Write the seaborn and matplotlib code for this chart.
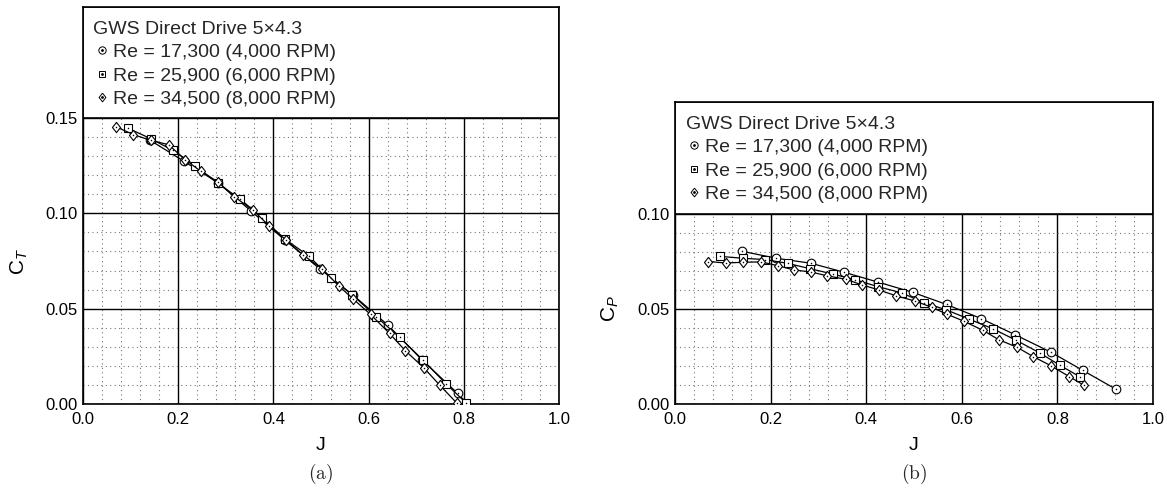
import numpy as np
import pandas as pd
import matplotlib
matplotlib.use("Agg")
import matplotlib.pyplot as plt
import matplotlib.transforms as mtransforms
from matplotlib.patches import Rectangle
from matplotlib.lines import Line2D
from matplotlib.legend_handler import HandlerTuple
from matplotlib.ticker import MultipleLocator
import seaborn as sns

sns.set_theme(style="white")
plt.rcParams['font.family'] = ['Liberation Sans', 'DejaVu Sans']
plt.rcParams['mathtext.fontset'] = 'custom'
plt.rcParams['mathtext.rm'] = 'Liberation Sans'
plt.rcParams['mathtext.it'] = 'Liberation Sans:italic'

# ---------------- data ----------------
labels = ["Re = 17,300 (4,000 RPM)", "Re = 25,900 (6,000 RPM)", "Re = 34,500 (8,000 RPM)"]
title = "GWS Direct Drive 5\u00d74.3"

J_4000 = [0.140, 0.212, 0.284, 0.353, 0.424, 0.497, 0.568, 0.640, 0.712, 0.787, 0.853, 0.923]
CT_4000 = [0.1385, 0.1273, 0.1160, 0.1012, 0.0860, 0.0710, 0.0570, 0.0415, 0.0232, 0.0056, -0.012, -0.030]
CP_4000 = [0.0804, 0.0767, 0.0741, 0.0694, 0.0642, 0.0588, 0.0524, 0.0450, 0.0364, 0.0272, 0.0177, 0.0077]

J_6000 = [0.094, 0.142, 0.189, 0.236, 0.283, 0.330, 0.377, 0.424, 0.474, 0.521, 0.566, 0.616, 0.665, 0.714, 0.763, 0.805, 0.848]
CT_6000 = [0.1447, 0.1392, 0.1330, 0.1250, 0.1158, 0.1075, 0.0975, 0.0865, 0.0777, 0.0660, 0.0572, 0.0458, 0.0350, 0.0231, 0.0105, 0.0005, -0.0090]
CP_6000 = [0.0777, 0.0767, 0.0760, 0.0740, 0.0712, 0.0684, 0.0654, 0.0618, 0.0585, 0.0533, 0.0497, 0.0446, 0.0396, 0.0335, 0.0269, 0.0204, 0.0142]

J_8000 = [0.070, 0.106, 0.142, 0.180, 0.215, 0.248, 0.284, 0.318, 0.358, 0.391, 0.427, 0.463, 0.502, 0.537, 0.568, 0.604, 0.644, 0.677, 0.716, 0.749, 0.786, 0.825, 0.856]
CT_8000 = [0.1453, 0.1413, 0.1383, 0.1360, 0.1280, 0.1220, 0.1164, 0.1087, 0.1015, 0.0934, 0.0860, 0.0780, 0.0710, 0.0620, 0.0550, 0.0470, 0.0370, 0.0280, 0.0190, 0.0100, 0.0003, -0.011, -0.021]
CP_8000 = [0.0750, 0.0742, 0.0746, 0.0748, 0.0728, 0.0706, 0.0695, 0.0675, 0.0656, 0.0627, 0.0600, 0.0569, 0.0542, 0.0509, 0.0474, 0.0436, 0.0388, 0.0339, 0.0298, 0.0250, 0.0202, 0.0144, 0.0098]

x_ticks = [0.0, 0.2, 0.4, 0.6, 0.8, 1.0]
ct_ticks = [0.00, 0.05, 0.10, 0.15]
cp_ticks = [0.00, 0.05, 0.10]

# ---------------- styling ----------------
diamond = [(0, 1), (0.78, 0), (0, -1), (-0.78, 0), (0, 1)]
markers = ['o', 's', diamond]
msizes = [6.2, 5.6, 7.4]

fig = plt.figure(figsize=(11.67, 4.90), dpi=100)
H = 490.0
W = 1167.0
ax1 = fig.add_axes([83 / W, 1 - 404 / H, (559 - 83) / W, (404 - 7) / H])
ax2 = fig.add_axes([675 / W, 1 - 404 / H, (1153 - 675) / W, (404 - 102) / H])


def draw(ax, series, ylim_top, box_bottom, yticks, ylabel, label_y, top_px):
    ax.set_xlim(0, 1.0)
    ax.set_ylim(0, ylim_top)
    ax.xaxis.set_major_locator(MultipleLocator(0.2))
    ax.xaxis.set_minor_locator(MultipleLocator(0.04))
    ax.yaxis.set_major_locator(MultipleLocator(0.05))
    ax.yaxis.set_minor_locator(MultipleLocator(0.01))
    ax.set_axisbelow(True)
    ax.grid(which='major', color='black', lw=1.0, ls='-')
    ax.grid(which='minor', color='#777777', lw=0.8, ls=(0, (1, 3)))
    for i, (J, C) in enumerate(series):
        sns.lineplot(x=J, y=C, ax=ax, color='black', lw=0.9, sort=False, estimator=None,
                     marker=markers[i], markersize=msizes[i], markerfacecolor='white',
                     markeredgecolor='black', markeredgewidth=0.8, zorder=3 + i)
        sns.scatterplot(x=J, y=C, ax=ax, color='black', s=1.2, marker='o', linewidth=0,
                        zorder=3.5 + i)
    trans = mtransforms.blended_transform_factory(ax.transAxes, ax.transData)
    ax.add_patch(Rectangle((0, box_bottom), 1, ylim_top - box_bottom, transform=trans,
                           facecolor='white', edgecolor='black', lw=1.2, zorder=1.5))
    ax.set_xticks(x_ticks)
    ax.set_yticks(yticks)
    ax.set_xticklabels([f"{v:.1f}" for v in x_ticks])
    ax.set_yticklabels([f"{v:.2f}" for v in yticks])
    ax.tick_params(axis='both', which='both', length=0, labelsize=12, colors='black')
    ax.tick_params(axis='x', pad=6)
    ax.tick_params(axis='y', pad=4)
    for s in ax.spines.values():
        s.set_color('black')
        s.set_linewidth(1.2)
    ax.set_xlabel('J', fontsize=14, labelpad=7, color='black')
    ax.set_ylabel(ylabel, fontsize=15, color='black')
    ax.yaxis.set_label_coords(-0.112, label_y)

    handles = []
    for i in range(3):
        h1 = Line2D([], [], ls='none', marker=markers[i], markersize=msizes[i] * 0.85,
                    markerfacecolor='white', markeredgecolor='black', markeredgewidth=0.7)
        h2 = Line2D([], [], ls='none', marker='o', markersize=1.0, color='black')
        handles.append((h1, h2))
    axh = 404 - top_px
    ytop = 1.0 - 14 / axh
    leg = ax.legend(handles, labels, handler_map={tuple: HandlerTuple(ndivide=1)},
                    title=title, alignment='left', loc='upper left',
                    bbox_to_anchor=(0.022, ytop), frameon=False, fontsize=14,
                    title_fontsize=14, handlelength=0.9, handletextpad=0.12,
                    labelspacing=0.29, borderpad=0, borderaxespad=0)
    leg.set_zorder(10)


draw(ax1, [(J_4000, CT_4000), (J_6000, CT_6000), (J_8000, CT_8000)],
     (404 - 7) / 95.33 * 0.05, 0.15, ct_ticks, r'C$_{\mathit{T}}$', 0.075 / 0.2082, 7)
draw(ax2, [(J_4000, CP_4000), (J_6000, CP_6000), (J_8000, CP_8000)],
     (404 - 102) / 190.0 * 0.1, 0.10, cp_ticks, r'C$_{\mathit{P}}$', 0.05 / 0.159, 102)

fig.text(321 / W, 1 - 474 / H, r'$\mathrm{(a)}$', math_fontfamily='cm', fontsize=14,
         ha='center', va='center')
fig.text(914 / W, 1 - 474 / H, r'$\mathrm{(b)}$', math_fontfamily='cm', fontsize=14,
         ha='center', va='center')

fig.savefig('out.png', dpi=100)
